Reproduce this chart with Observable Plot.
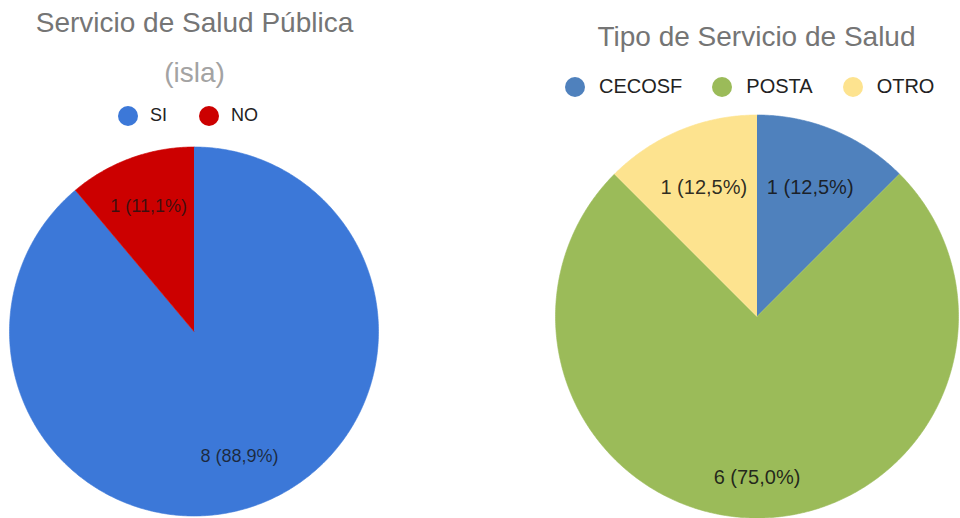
<!DOCTYPE html>
<html><head><meta charset="utf-8">
<script src="https://cdn.jsdelivr.net/npm/d3@7"></script>
<script src="https://cdn.jsdelivr.net/npm/@observablehq/plot@0.6"></script>
<style>
body{margin:0;background:#fff;font-family:"Liberation Sans",Arial,sans-serif;}
#wrap{position:relative;width:960px;height:518px;overflow:hidden;background:#fff;}
.panel{position:absolute;top:0;height:518px;}
.title{position:absolute;left:0;right:0;text-align:center;color:#757575;font-size:28px;line-height:28px;white-space:nowrap;}
.legend{position:absolute;display:flex;align-items:center;color:#222;white-space:nowrap;}
.item{display:flex;align-items:center;}
.sw{display:inline-block;width:20px;height:20px;border-radius:50%;}
.plotbox{position:absolute;left:0;}
</style></head><body><div id="wrap"></div>
<script>
// ---- data ----
const leftTitle = ["Servicio de Salud Pública", "(isla)"];
const leftCategories = ["SI", "NO"];
const leftValues = [8, 1];
const leftColors = ["#3c78d8", "#cc0000"];

const rightTitle = ["Tipo de Servicio de Salud"];
const rightCategories = ["CECOSF", "POSTA", "OTRO"];
const rightValues = [1, 6, 1];
const rightColors = ["#4f81bd", "#9bbb59", "#fde38f"];

// ---- helpers ----
function slicePoints(cats, vals) {
  const total = d3.sum(vals);
  let acc = 0;
  const pts = [];
  cats.forEach((c, i) => {
    const a0 = acc / total * 2 * Math.PI;
    acc += vals[i];
    const a1 = acc / total * 2 * Math.PI;
    pts.push({cat: c, x: 0, y: 0});
    const n = Math.max(2, Math.ceil((a1 - a0) / (Math.PI / 360)));
    for (let k = 0; k <= n; k++) {
      const a = a0 + (a1 - a0) * k / n;
      pts.push({cat: c, x: Math.sin(a), y: Math.cos(a)});
    }
  });
  return pts;
}
function sliceLabels(cats, vals, radiusFor) {
  const total = d3.sum(vals);
  let acc = 0;
  return cats.map((c, i) => {
    const frac = vals[i] / total;
    const mid = (acc + vals[i] / 2) / total * 2 * Math.PI;
    acc += vals[i];
    const r = radiusFor(frac);
    return {
      cat: c,
      x: r * Math.sin(mid),
      y: r * Math.cos(mid),
      text: `${vals[i]} (${(frac * 100).toFixed(1).replace(".", ",")}%)`
    };
  });
}

function panel(cfg) {
  const p = document.createElement("div");
  p.className = "panel";
  p.style.left = cfg.left + "px";
  p.style.width = cfg.width + "px";
  cfg.title.forEach((t, i) => {
    const d = document.createElement("div");
    d.className = "title";
    d.style.top = cfg.titleTops[i] + "px";
    if (i > 0) d.style.color = "#a3a3a3";
    d.textContent = t;
    p.appendChild(d);
  });
  const lg = document.createElement("div");
  lg.className = "legend";
  lg.style.left = cfg.legendLeft + "px";
  lg.style.top = cfg.legendTop + "px";
  lg.style.fontSize = cfg.legendFont + "px";
  lg.style.gap = cfg.itemGap + "px";
  cfg.cats.forEach((c, i) => {
    const it = document.createElement("span");
    it.className = "item";
    it.style.gap = cfg.swGap + "px";
    const sw = document.createElement("span");
    sw.className = "sw";
    sw.style.background = cfg.colors[i];
    const tx = document.createElement("span");
    tx.textContent = c;
    it.appendChild(sw); it.appendChild(tx);
    lg.appendChild(it);
  });
  p.appendChild(lg);

  const W = cfg.width, H = cfg.plotHeight, cx = cfg.cx, cy = cfg.cy, R = cfg.R;
  const chart = Plot.plot({
    width: W, height: H, margin: 0,
    style: {background: "transparent", fontFamily: "Liberation Sans, Arial, sans-serif"},
    x: {domain: [-cx / R, (W - cx) / R], range: [0, W], axis: null},
    y: {domain: [-(H - cy) / R, cy / R], range: [H, 0], axis: null},
    color: {domain: cfg.cats, range: cfg.colors},
    marks: [
      Plot.line(slicePoints(cfg.cats, cfg.vals), {
        x: "x", y: "y", z: "cat", fill: "cat", stroke: "cat", strokeWidth: 0.6, curve: "linear"
      }),
      Plot.text(sliceLabels(cfg.cats, cfg.vals, cfg.labelRadius), {
        x: "x", y: "y", text: "text", fontSize: cfg.labelFont,
        fill: "#141414", fillOpacity: cfg.labelOpacity
      })
    ]
  });
  const box = document.createElement("div");
  box.className = "plotbox";
  box.style.top = cfg.plotTop + "px";
  box.appendChild(chart);
  p.appendChild(box);
  return p;
}

const wrap = document.getElementById("wrap");
wrap.appendChild(panel({
  left: 0, width: 389, title: leftTitle, titleTops: [9, 59],
  cats: leftCategories, vals: leftValues, colors: leftColors,
  legendLeft: 118, legendTop: 105, legendFont: 18, itemGap: 32, swGap: 12,
  plotTop: 140, plotHeight: 378, cx: 193.5, cy: 191, R: 184.5,
  labelRadius: () => 0.72, labelFont: 18, labelOpacity: 0.78
}));
wrap.appendChild(panel({
  left: 553, width: 407, title: rightTitle, titleTops: [23],
  cats: rightCategories, vals: rightValues, colors: rightColors,
  legendLeft: 12, legendTop: 75, legendFont: 20, itemGap: 30, swGap: 14,
  plotTop: 105, plotHeight: 413, cx: 203.5, cy: 211, R: 201.5,
  labelRadius: f => (f > 0.5 ? 0.8 : 0.69), labelFont: 20, labelOpacity: 0.9
}));
</script>
</body></html>
